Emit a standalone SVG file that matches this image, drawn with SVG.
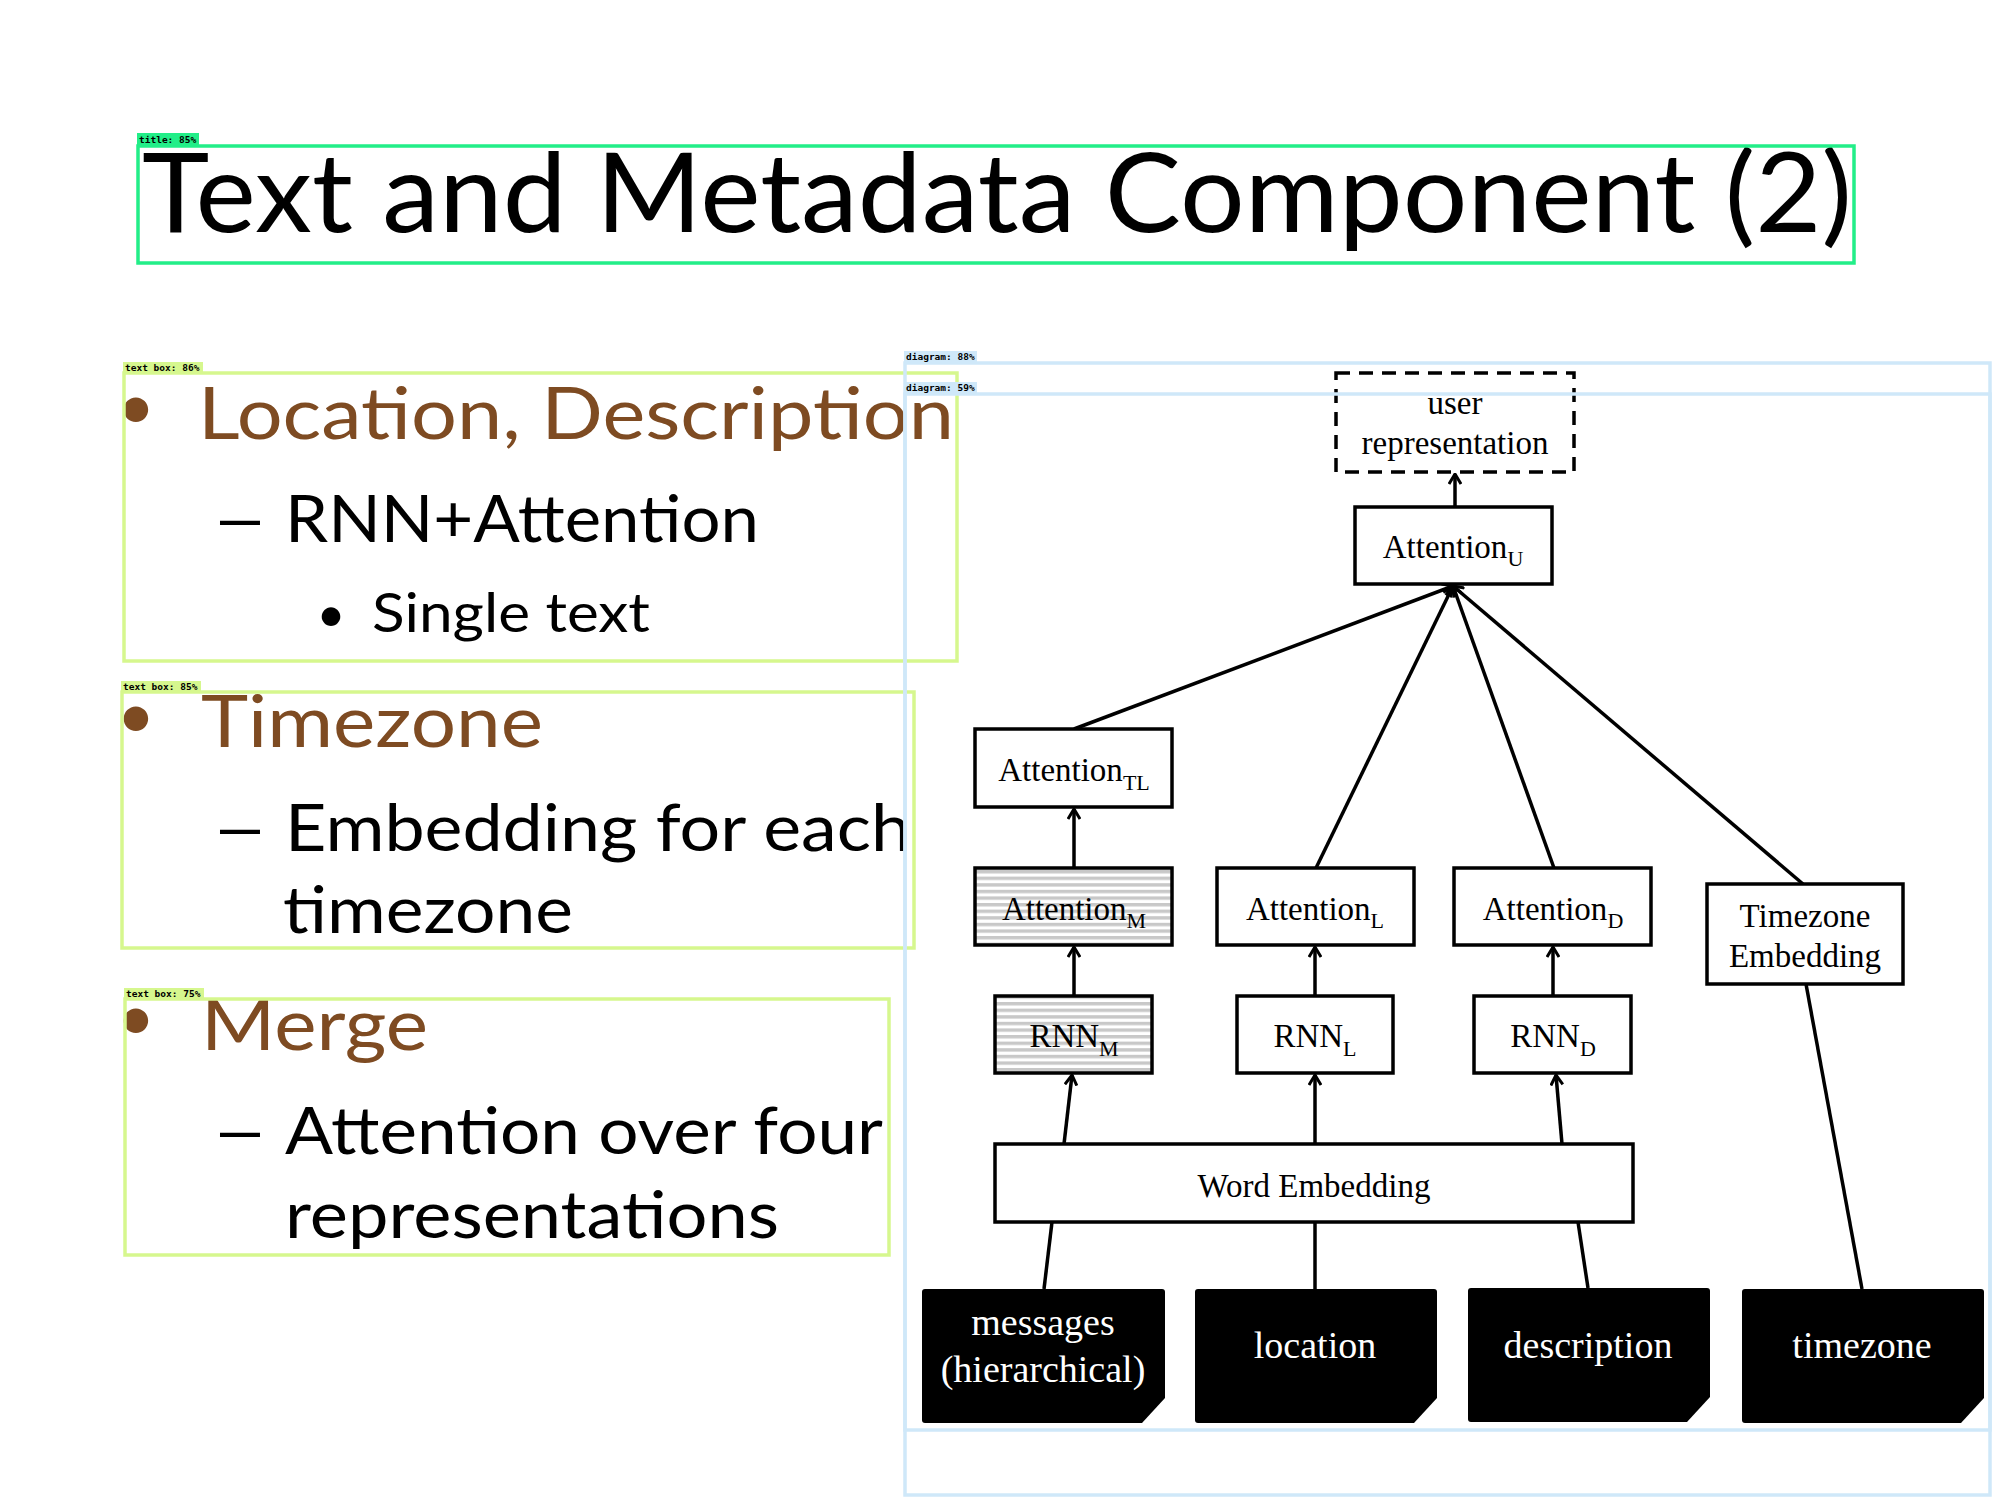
<svg xmlns="http://www.w3.org/2000/svg" width="2000" height="1500" viewBox="0 0 2000 1500">
  <defs>
    <style>
      .slide { font-family: Lato, "Open Sans", "Liberation Sans", sans-serif; }
      .brown { fill: #7e4b22; }
      .blk { fill: #000; }
      .node { fill: #fff; stroke: #000; stroke-width: 3.5; }
      .hatched { fill: url(#stripes); stroke: #000; stroke-width: 3.5; }
      .dashed { fill: #fff; stroke: #000; stroke-width: 3.5; stroke-dasharray: 14 9; }
      .input { fill: #000; }
      .lbl { font-family: "Liberation Serif", "Times New Roman", serif; font-size: 33px; fill: #000; text-anchor: middle; }
      .sub { font-size: 22px; }
      .inlbl { font-family: "Liberation Serif", "Times New Roman", serif; font-size: 38px; fill: #fff; text-anchor: middle; }
      .edge { fill: none; stroke: #000; stroke-width: 3.5; }
      .titlebox { fill: none; stroke: #22ee88; stroke-width: 3.5; }
      .textbox { fill: none; stroke: #d6f78e; stroke-width: 3.5; }
      .diagbox { fill: none; stroke: #cfe8f9; stroke-width: 3.5; }
      .tag { font-family: "DejaVu Sans Mono", "Liberation Mono", monospace; font-size: 9.5px; font-weight: bold; fill: #000; }
    </style>
    <pattern id="stripes" patternUnits="userSpaceOnUse" x="0" y="870" width="8" height="6.6">
      <rect width="8" height="6.6" fill="#fff"/>
      <rect y="0" width="8" height="3.4" fill="#c8c8c8"/>
    </pattern>
    <marker id="arr" viewBox="0 0 12 14" refX="11" refY="7" markerWidth="12" markerHeight="14" markerUnits="userSpaceOnUse" orient="auto">
      <path d="M1,1 L11,7 L1,13" fill="none" stroke="#000" stroke-width="3"/>
    </marker>
  </defs>

  <rect width="2000" height="1500" fill="#fff"/>

  <!-- slide title -->
  <text class="slide blk" x="142" y="232" font-size="110" textLength="1710" lengthAdjust="spacingAndGlyphs">Text and Metadata Component (2)</text>

  <!-- bullet list -->
  <g id="bullets" class="slide">
    <text class="brown" x="136" y="429" font-size="66" text-anchor="middle">•</text>
    <text class="brown" x="198" y="439" font-size="72" textLength="756" lengthAdjust="spacingAndGlyphs">Location, Description</text>
    <text class="blk" x="211" y="542" font-size="66" textLength="58" lengthAdjust="spacingAndGlyphs">–</text>
    <text class="blk" x="285" y="542" font-size="66" textLength="474" lengthAdjust="spacingAndGlyphs">RNN+Attention</text>
    <text class="blk" x="331" y="632" font-size="50" text-anchor="middle">•</text>
    <text class="blk" x="372" y="632" font-size="54" textLength="278" lengthAdjust="spacingAndGlyphs">Single text</text>

    <text class="brown" x="136" y="738" font-size="66" text-anchor="middle">•</text>
    <text class="brown" x="201" y="747" font-size="72" textLength="342" lengthAdjust="spacingAndGlyphs">Timezone</text>
    <text class="blk" x="211" y="851" font-size="66" textLength="58" lengthAdjust="spacingAndGlyphs">–</text>
    <text class="blk" x="285" y="851" font-size="66" textLength="626" lengthAdjust="spacingAndGlyphs">Embedding for each</text>
    <text class="blk" x="283" y="933" font-size="66" textLength="290" lengthAdjust="spacingAndGlyphs">timezone</text>

    <text class="brown" x="136" y="1040" font-size="66" text-anchor="middle">•</text>
    <text class="brown" x="201" y="1050" font-size="72" textLength="227" lengthAdjust="spacingAndGlyphs">Merge</text>
    <text class="blk" x="211" y="1154" font-size="66" textLength="58" lengthAdjust="spacingAndGlyphs">–</text>
    <text class="blk" x="285" y="1154" font-size="66" textLength="598" lengthAdjust="spacingAndGlyphs">Attention over four</text>
    <text class="blk" x="285" y="1238" font-size="66" textLength="494" lengthAdjust="spacingAndGlyphs">representations</text>
  </g>

  <!-- connectors -->
  <g id="connectors">
    <line class="edge" x1="1074" y1="729" x2="1453" y2="586" marker-end="url(#arr)"/>
    <line class="edge" x1="1316" y1="868" x2="1453" y2="586" marker-end="url(#arr)"/>
    <line class="edge" x1="1554" y1="868" x2="1453" y2="586" marker-end="url(#arr)"/>
    <line class="edge" x1="1803" y1="884" x2="1453" y2="586" marker-end="url(#arr)"/>
    <line class="edge" x1="1455" y1="507" x2="1455" y2="474" marker-end="url(#arr)"/>
    <line class="edge" x1="1074" y1="868" x2="1074" y2="809" marker-end="url(#arr)"/>
    <line class="edge" x1="1074" y1="996" x2="1074" y2="947" marker-end="url(#arr)"/>
    <line class="edge" x1="1315" y1="996" x2="1315" y2="947" marker-end="url(#arr)"/>
    <line class="edge" x1="1553" y1="996" x2="1553" y2="947" marker-end="url(#arr)"/>
    <line class="edge" x1="1064" y1="1144" x2="1072" y2="1075" marker-end="url(#arr)"/>
    <line class="edge" x1="1315" y1="1144" x2="1315" y2="1075" marker-end="url(#arr)"/>
    <line class="edge" x1="1562" y1="1144" x2="1556" y2="1075" marker-end="url(#arr)"/>
    <line class="edge" x1="1044" y1="1289" x2="1052" y2="1222"/>
    <line class="edge" x1="1315" y1="1289" x2="1315" y2="1222"/>
    <line class="edge" x1="1588" y1="1288" x2="1578" y2="1222"/>
    <line class="edge" x1="1862" y1="1289" x2="1806" y2="984"/>
  </g>

  <!-- nodes -->
  <g id="user-representation">
    <rect class="dashed" x="1336" y="373" width="238" height="99"/>
    <text class="lbl" x="1455" y="414">user</text>
    <text class="lbl" x="1455" y="454">representation</text>
  </g>
  <g id="attention-u">
    <rect class="node" x="1355" y="507" width="197" height="77"/>
    <text class="lbl" x="1453" y="558">Attention<tspan class="sub" dy="8">U</tspan></text>
  </g>
  <g id="attention-tl">
    <rect class="node" x="975" y="729" width="197" height="78"/>
    <text class="lbl" x="1074" y="781">Attention<tspan class="sub" dy="9">TL</tspan></text>
  </g>
  <g id="attention-m">
    <rect class="hatched" x="975" y="868" width="197" height="77"/>
    <text class="lbl" x="1074" y="920">Attention<tspan class="sub" dy="8">M</tspan></text>
  </g>
  <g id="attention-l">
    <rect class="node" x="1217" y="868" width="197" height="77"/>
    <text class="lbl" x="1315" y="920">Attention<tspan class="sub" dy="8">L</tspan></text>
  </g>
  <g id="attention-d">
    <rect class="node" x="1454" y="868" width="197" height="77"/>
    <text class="lbl" x="1553" y="920">Attention<tspan class="sub" dy="8">D</tspan></text>
  </g>
  <g id="timezone-embedding">
    <rect class="node" x="1707" y="884" width="196" height="100"/>
    <text class="lbl" x="1805" y="927">Timezone</text>
    <text class="lbl" x="1805" y="967">Embedding</text>
  </g>
  <g id="rnn-m">
    <rect class="hatched" x="995" y="996" width="157" height="77"/>
    <text class="lbl" x="1074" y="1047">RNN<tspan class="sub" dy="9">M</tspan></text>
  </g>
  <g id="rnn-l">
    <rect class="node" x="1237" y="996" width="156" height="77"/>
    <text class="lbl" x="1315" y="1047">RNN<tspan class="sub" dy="9">L</tspan></text>
  </g>
  <g id="rnn-d">
    <rect class="node" x="1474" y="996" width="157" height="77"/>
    <text class="lbl" x="1553" y="1047">RNN<tspan class="sub" dy="9">D</tspan></text>
  </g>
  <g id="word-embedding">
    <rect class="node" x="995" y="1144" width="638" height="78"/>
    <text class="lbl" x="1314" y="1197">Word Embedding</text>
  </g>
  <g id="input-messages">
    <path class="input" d="M925,1289 H1162 Q1165,1289 1165,1292 V1398 L1142,1423 H925 Q922,1423 922,1420 V1292 Q922,1289 925,1289 Z"/>
    <text class="inlbl" x="1043" y="1335">messages</text>
    <text class="inlbl" x="1043" y="1382">(hierarchical)</text>
  </g>
  <g id="input-location">
    <path class="input" d="M1198,1289 H1434 Q1437,1289 1437,1292 V1398 L1414,1423 H1198 Q1195,1423 1195,1420 V1292 Q1195,1289 1198,1289 Z"/>
    <text class="inlbl" x="1315" y="1358">location</text>
  </g>
  <g id="input-description">
    <path class="input" d="M1471,1288 H1707 Q1710,1288 1710,1291 V1397 L1687,1422 H1471 Q1468,1422 1468,1419 V1291 Q1468,1288 1471,1288 Z"/>
    <text class="inlbl" x="1588" y="1358">description</text>
  </g>
  <g id="input-timezone">
    <path class="input" d="M1745,1289 H1981 Q1984,1289 1984,1292 V1398 L1961,1423 H1745 Q1742,1423 1742,1420 V1292 Q1742,1289 1745,1289 Z"/>
    <text class="inlbl" x="1862" y="1358">timezone</text>
  </g>

  <!-- region annotations -->
  <g id="annotations">
    <rect class="titlebox" x="138" y="146" width="1716" height="117"/>
    <rect x="137" y="133" width="62" height="12" fill="#22ee88"/>
    <text class="tag" x="139" y="142.5">title: 85%</text>

    <rect class="textbox" x="124" y="373" width="833" height="288"/>
    <rect x="123" y="362" width="80" height="11" fill="#d6f78e"/>
    <text class="tag" x="125" y="370.5">text box: 86%</text>

    <rect class="textbox" x="122" y="692" width="792" height="256"/>
    <rect x="121" y="681" width="80" height="11" fill="#d6f78e"/>
    <text class="tag" x="123" y="689.5">text box: 85%</text>

    <rect class="textbox" x="125" y="999" width="764" height="256"/>
    <rect x="124" y="988" width="80" height="11" fill="#d6f78e"/>
    <text class="tag" x="126" y="996.5">text box: 75%</text>

    <rect class="diagbox" x="905" y="363" width="1085" height="1132"/>
    <rect x="904" y="351" width="73" height="11" fill="#cfe8f9"/>
    <text class="tag" x="906" y="359.5">diagram: 88%</text>

    <rect class="diagbox" x="905" y="394" width="1085" height="1036"/>
    <rect x="904" y="382" width="73" height="11" fill="#cfe8f9"/>
    <text class="tag" x="906" y="390.5">diagram: 59%</text>
  </g>
</svg>
